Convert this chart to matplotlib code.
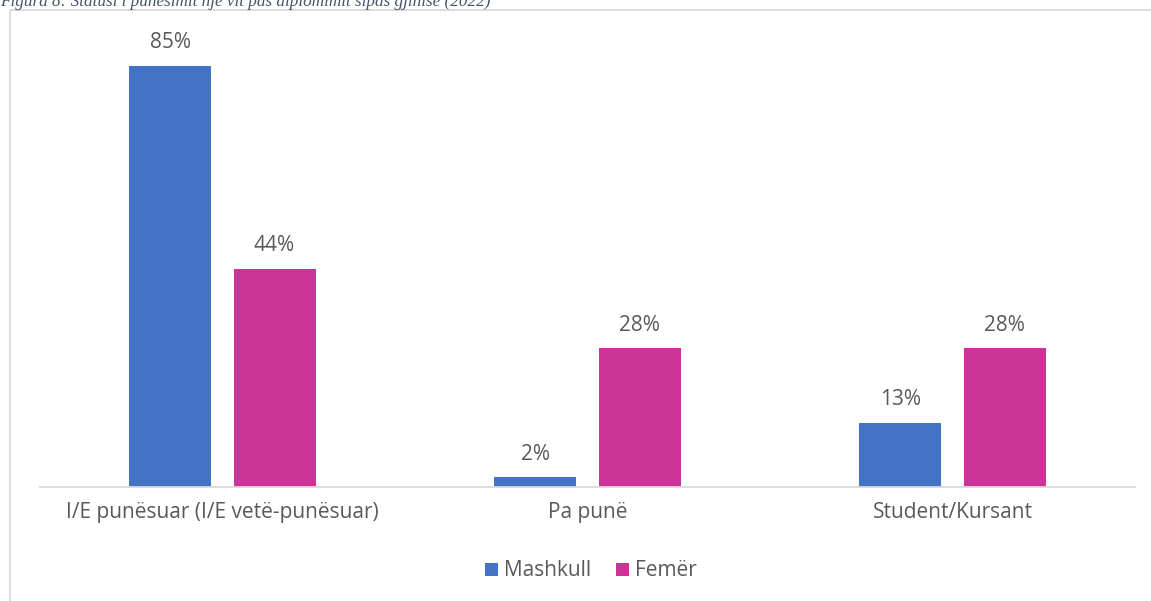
import matplotlib.pyplot as plt
from matplotlib.patches import Rectangle
import numpy as np

categories = ['I/E punësuar (I/E vetë-punësuar)', 'Pa punë', 'Student/Kursant']
mashkull = [85, 2, 13]
femer = [44, 28, 28]
series_names = ['Mashkull', 'Femër']
colors = ['#4472C4', '#CC3399']
title = 'Figura 8: Statusi i punësimit një vit pas diplomimit sipas gjinisë (2022)'

W, H = 1151, 601
fig = plt.figure(figsize=(W / 100, H / 100), dpi=100)

# chart frame
fig.patches.append(Rectangle((10 / W, -0.01), 1.2, (H - 10) / H + 0.01,
                             transform=fig.transFigure, fill=False,
                             edgecolor='#d9d9d9', linewidth=1.3))

# caption above the chart, cut off by the top edge as in the source
fig.text(0.0, 1 - 6 / H, title, ha='left', va='baseline', fontsize=12.3,
         family='Liberation Serif', style='italic', color='#44546A')

left, right = 40 / W, 1135 / W
bottom, top = 1 - 487 / H, 1 - 41 / H
ax = fig.add_axes([left, bottom, right - left, top - bottom])

x = np.arange(len(categories))
bw = 0.2247
off = 0.1425
b1 = ax.bar(x - off, mashkull, bw, color=colors[0], label=series_names[0])
b2 = ax.bar(x + off, femer, bw, color=colors[1], label=series_names[1])

txt = '#595959'
for bars, vals in ((b1, mashkull), (b2, femer)):
    for r, v in zip(bars, vals):
        ax.annotate(f'{v}%', (r.get_x() + r.get_width() / 2, v),
                    xytext=(0, 9), textcoords='offset points',
                    ha='center', va='bottom', fontsize=15,
                    color=txt, family='Open Sans')

ax.set_xlim(-0.5, 2.5)
ax.set_ylim(0, 90)
ax.set_yticks([])
ax.set_xticks(x)
ax.set_xticklabels(categories, fontsize=15, color=txt, family='Open Sans')
ax.tick_params(axis='x', length=0, pad=11)
for s in ('top', 'right', 'left'):
    ax.spines[s].set_visible(False)
ax.spines['bottom'].set_color('#d9d9d9')
ax.spines['bottom'].set_linewidth(1.3)

fig.legend(handles=[b1, b2], labels=series_names, loc='center',
           bbox_to_anchor=(591 / W, 1 - 571 / H), ncol=2, frameon=False,
           prop={'family': 'Open Sans', 'size': 15}, labelcolor=txt,
           handlelength=0.6, handleheight=0.6, handletextpad=0.3,
           columnspacing=1.2)

fig.savefig('out.png', dpi=100)
